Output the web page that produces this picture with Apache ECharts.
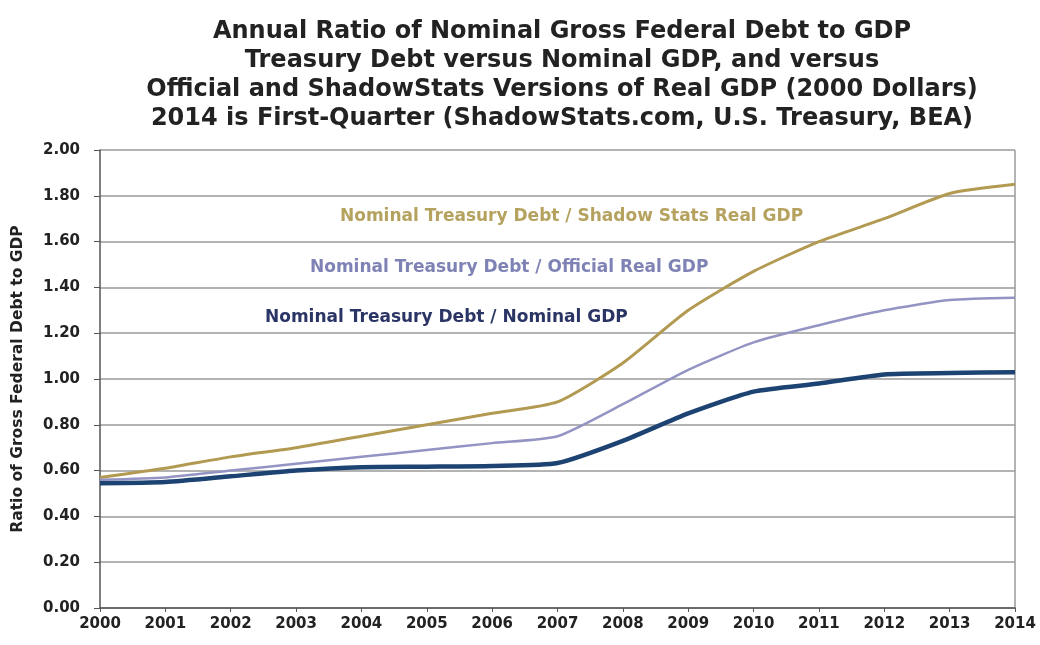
<!DOCTYPE html>
<html>
<head>
<meta charset="utf-8">
<script src="https://cdn.jsdelivr.net/npm/echarts@6/dist/echarts.min.js"></script>
<style>
  html, body { margin: 0; padding: 0; background: #fff; }
  #container { width: 1040px; height: 645px; }
</style>
</head>
<body>
<div id="container"></div>
<script>
// years on the x axis
var years = ['2000', '2001', '2002', '2003', '2004', '2005', '2006', '2007',
             '2008', '2009', '2010', '2011', '2012', '2013', '2014'];

// debt / ShadowStats real GDP
var shadowRatio = [0.57, 0.61, 0.66, 0.70, 0.75, 0.80, 0.85, 0.90,
                   1.07, 1.30, 1.47, 1.60, 1.70, 1.81, 1.85];
// debt / official real GDP
var officialRatio = [0.56, 0.57, 0.60, 0.63, 0.66, 0.69, 0.72, 0.75,
                     0.89, 1.04, 1.16, 1.235, 1.30, 1.345, 1.355];
// debt / nominal GDP
var nominalRatio = [0.545, 0.55, 0.575, 0.60, 0.615, 0.617, 0.62, 0.633,
                    0.73, 0.85, 0.945, 0.98, 1.02, 1.026, 1.03];

var titleLines = [
    'Annual Ratio of Nominal Gross Federal Debt to GDP',
    'Treasury Debt versus Nominal GDP, and versus',
    'Official and ShadowStats Versions of Real GDP (2000 Dollars)',
    '2014 is First-Quarter (ShadowStats.com, U.S. Treasury, BEA)'
];

var seriesLabels = [
    'Nominal Treasury Debt / Shadow Stats Real GDP',
    'Nominal Treasury Debt / Official Real GDP',
    'Nominal Treasury Debt / Nominal GDP'
];

var colors = ['#b39a52', '#9494c4', '#1d4373'];
var labelColors = ['#b5a25e', '#7f82b4', '#2b3565'];

var dom = document.getElementById('container');
var myChart = echarts.init(dom, null, { renderer: 'canvas' });

var font = '"DejaVu Sans", Verdana, sans-serif';

var option = {
    animation: false,
    backgroundColor: '#fff',
    title: {
        text: titleLines.join('\n'),
        left: 557,
        top: 12,
        textAlign: 'center',
        textStyle: {
            fontFamily: font,
            fontSize: 24,
            fontWeight: 'bold',
            color: '#222',
            lineHeight: 29
        }
    },
    grid: {
        left: 100,
        right: 25,
        top: 150,
        bottom: 37,
        outerBoundsMode: 'none'
    },
    xAxis: {
        type: 'category',
        data: years,
        boundaryGap: false,
        axisLine: { lineStyle: { color: '#555', width: 1.5 } },
        axisTick: { show: true, length: 4, lineStyle: { color: '#555' } },
        axisLabel: {
            fontFamily: font,
            fontSize: 15,
            fontWeight: 'bold',
            color: '#222',
            margin: 9
        },
        splitLine: { show: false }
    },
    yAxis: {
        type: 'value',
        min: 0,
        max: 2,
        interval: 0.2,
        name: 'Ratio of Gross Federal Debt to GDP',
        nameLocation: 'middle',
        nameGap: 74,
        nameTextStyle: {
            fontFamily: font,
            fontSize: 15.5,
            fontWeight: 'bold',
            color: '#222'
        },
        axisLine: { show: true, lineStyle: { color: '#555', width: 1.5 } },
        axisTick: { show: true, length: 6, lineStyle: { color: '#555' } },
        axisLabel: {
            fontFamily: font,
            fontSize: 15,
            fontWeight: 'bold',
            color: '#222',
            margin: 20,
            formatter: function (v) { return v.toFixed(2); }
        },
        splitLine: { lineStyle: { color: '#9a9a9a', width: 1.5 } }
    },
    graphic: [
        {
            type: 'line',
            shape: { x1: 1015, y1: 150, x2: 1015, y2: 608 },
            style: { stroke: '#9a9a9a', lineWidth: 1.5 }
        },
        {
            type: 'text', left: 340, top: 208,
            style: { text: seriesLabels[0], font: 'bold 17px ' + font, fill: labelColors[0] }
        },
        {
            type: 'text', left: 310, top: 259,
            style: { text: seriesLabels[1], font: 'bold 17px ' + font, fill: labelColors[1] }
        },
        {
            type: 'text', left: 265, top: 309,
            style: { text: seriesLabels[2], font: 'bold 17px ' + font, fill: labelColors[2] }
        }
    ],
    series: [
        {
            name: seriesLabels[0],
            type: 'line',
            data: shadowRatio,
            smooth: 0.2,
            symbol: 'none',
            lineStyle: { color: colors[0], width: 3 },
            z: 3
        },
        {
            name: seriesLabels[1],
            type: 'line',
            data: officialRatio,
            smooth: 0.2,
            symbol: 'none',
            lineStyle: { color: colors[1], width: 2.5 },
            z: 4
        },
        {
            name: seriesLabels[2],
            type: 'line',
            data: nominalRatio,
            smooth: 0.2,
            symbol: 'none',
            lineStyle: { color: colors[2], width: 4.5 },
            z: 5
        }
    ]
};

myChart.setOption(option);
window.addEventListener('resize', myChart.resize);
</script>
</body>
</html>
